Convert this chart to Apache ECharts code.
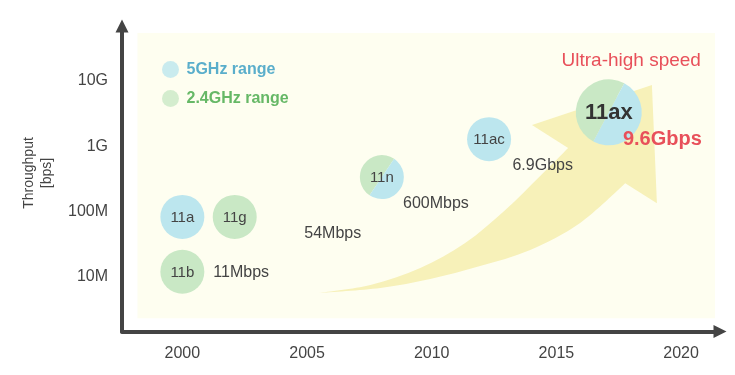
<!DOCTYPE html>
<html>
<head>
<meta charset="utf-8">
<script src="https://cdn.jsdelivr.net/npm/echarts@6/dist/echarts.min.js"></script>
<style>
  html, body { margin: 0; padding: 0; background: #fff; }
  #main { width: 735px; height: 375px; }
</style>
</head>
<body>
<div id="main"></div>
<script>
var FONT = 'Liberation Sans, Arial, sans-serif';

// axis ticks
var yearTicks = [2000, 2005, 2010, 2015, 2020];
var levelTicks = [7, 8, 9, 10];           // log10(bps)
var levelLabels = ['10M', '100M', '1G', '10G'];

// bubbles (year, log10 level)
var bubbleNames = ['11a', '11g', '11b', '11n', '11ac', '11ax'];
var bubbleYears = [2000.0, 2002.1, 2000.0, 2008.0, 2012.3, 2017.1];
var bubbleLevels = [7.92, 7.92, 7.08, 8.53, 9.11, 9.52];
var bubbleBands = ['5GHz', '2.4GHz', '2.4GHz', 'dual', '5GHz', 'dual'];

// speed annotations
var speedTexts = ['11Mbps', '54Mbps', '600Mbps', '6.9Gbps', '9.6Gbps'];
var speedYears = [2002.36, 2006.03, 2010.17, 2014.45, 2019.25];
var speedLevels = [7.06, 7.67, 8.12, 8.70, 9.11];

var headlineText = ['Ultra-high speed'];
var headlineYears = [2018.0];
var headlineLevels = [10.31];

// big trend arrow: upper edge (tail -> notch), head, lower edge (barb -> tail)
var arrowUpperYears = [2005.45, 2007.54, 2009.54, 2011.34, 2012.95, 2014.35, 2015.47];
var arrowUpperLevels = [6.755, 6.878, 7.138, 7.520, 8.026, 8.546, 8.975];
var arrowHeadYears = [2014.02, 2018.83, 2019.03, 2017.76];
var arrowHeadLevels = [9.327, 9.939, 8.128, 8.434];
var arrowLowerYears = [2017.76, 2015.95, 2013.95, 2011.94, 2009.94, 2007.94, 2005.45];
var arrowLowerLevels = [8.434, 7.827, 7.413, 7.168, 6.969, 6.832, 6.755];

// pale panel behind the plot
var panelYears = [1998.2, 2021.36];
var panelLevels = [6.37, 10.735];

var C5 = '#bce6ee', C24 = '#c9e8c5';

function splinePath(pts) {
    // Catmull-Rom through pts, as cubic bezier segments (no leading M)
    var d = '';
    for (var i = 0; i < pts.length - 1; i++) {
        var p0 = pts[Math.max(i - 1, 0)], p1 = pts[i], p2 = pts[i + 1], p3 = pts[Math.min(i + 2, pts.length - 1)];
        var c1 = [p1[0] + (p2[0] - p0[0]) / 6, p1[1] + (p2[1] - p0[1]) / 6];
        var c2 = [p2[0] - (p3[0] - p1[0]) / 6, p2[1] - (p3[1] - p1[1]) / 6];
        d += ' C' + c1[0] + ',' + c1[1] + ' ' + c2[0] + ',' + c2[1] + ' ' + p2[0] + ',' + p2[1];
    }
    return d;
}

var chart = echarts.init(document.getElementById('main'));

var option = {
    animation: false,
    backgroundColor: '#fff',
    textStyle: { fontFamily: FONT },
    grid: { left: 122, right: 15, top: 26, bottom: 43.5 },
    legend: {
        orient: 'vertical',
        left: 157,
        top: 56,
        itemWidth: 22,
        itemHeight: 17,
        itemGap: 12,
        icon: 'circle',
        data: [
            { name: '5GHz range', textStyle: { color: '#5aaecb' } },
            { name: '2.4GHz range', textStyle: { color: '#66b866' } }
        ],
        textStyle: { fontSize: 16, fontWeight: 'bold', fontFamily: FONT }
    },
    graphic: [{
        type: 'text',
        x: 38,
        y: 173,
        rotation: Math.PI / 2,
        style: {
            text: 'Throughput\n[bps]',
            align: 'center',
            verticalAlign: 'middle',
            fill: '#444',
            fontSize: 14,
            lineHeight: 18,
            fontFamily: FONT
        }
    }],
    xAxis: {
        type: 'value',
        min: 1997.58,
        max: 2021.56,
        splitLine: { show: false },
        axisTick: { show: false },
        axisLine: {
            symbol: ['none', 'triangle'],
            symbolSize: [13, 13],
            lineStyle: { color: '#444', width: 4 }
        },
        axisLabel: {
            customValues: yearTicks,
            margin: 14,
            color: '#444',
            fontSize: 16,
            fontFamily: FONT,
            formatter: function (v) { return String(Math.round(v)); }
        }
    },
    yAxis: {
        type: 'value',
        min: 6.166,
        max: 10.842,
        splitLine: { show: false },
        axisTick: { show: false },
        axisLine: {
            symbol: ['none', 'triangle'],
            symbolSize: [13, 13],
            lineStyle: { color: '#444', width: 4 }
        },
        axisLabel: {
            customValues: levelTicks,
            margin: 14,
            color: '#444',
            fontSize: 16,
            fontFamily: FONT,
            formatter: function (v) {
                var i = levelTicks.indexOf(Math.round(v));
                return i >= 0 ? levelLabels[i] : '';
            }
        }
    },
    series: [
        { name: '5GHz range', type: 'scatter', data: [], itemStyle: { color: C5 } },
        { name: '2.4GHz range', type: 'scatter', data: [], itemStyle: { color: C24 } },
        {
            type: 'custom',
            silent: true,
            z: 1,
            data: [[panelYears[0], panelLevels[0]]],
            renderItem: function (params, api) {
                var a = api.coord([panelYears[0], panelLevels[1]]);
                var b = api.coord([panelYears[1], panelLevels[0]]);
                return {
                    type: 'rect',
                    shape: { x: a[0], y: a[1], width: b[0] - a[0], height: b[1] - a[1] },
                    style: { fill: '#fefef0' }
                };
            }
        },
        {
            type: 'custom',
            silent: true,
            z: 2,
            data: [[arrowUpperYears[0], arrowUpperLevels[0]]],
            renderItem: function (params, api) {
                var up = arrowUpperYears.map(function (y, i) { return api.coord([y, arrowUpperLevels[i]]); });
                var head = arrowHeadYears.map(function (y, i) { return api.coord([y, arrowHeadLevels[i]]); });
                var low = arrowLowerYears.map(function (y, i) { return api.coord([y, arrowLowerLevels[i]]); });
                var d = 'M' + up[0][0] + ',' + up[0][1] + splinePath(up);
                head.forEach(function (p) { d += ' L' + p[0] + ',' + p[1]; });
                d += splinePath(low) + ' Z';
                return {
                    type: 'path',
                    shape: { pathData: d },
                    style: { fill: '#f7f1b9' }
                };
            }
        },
        {
            type: 'custom',
            z: 3,
            data: bubbleYears.map(function (y, i) { return [y, bubbleLevels[i]]; }),
            renderItem: function (params, api) {
                var i = params.dataIndex;
                var p = api.coord([api.value(0), api.value(1)]);
                var big = bubbleNames[i] === '11ax';
                var r = big ? 33 : 22;
                var kids = [];
                if (bubbleBands[i] === 'dual') {
                    var a0 = (big ? 118 : 124) * Math.PI / 180;
                    kids.push({ type: 'sector', shape: { cx: p[0], cy: p[1], r: r, r0: 0, startAngle: a0, endAngle: a0 + Math.PI, clockwise: true }, style: { fill: C24 } });
                    kids.push({ type: 'sector', shape: { cx: p[0], cy: p[1], r: r, r0: 0, startAngle: a0 + Math.PI, endAngle: a0 + 2 * Math.PI, clockwise: true }, style: { fill: C5 } });
                } else {
                    kids.push({ type: 'circle', shape: { cx: p[0], cy: p[1], r: r }, style: { fill: bubbleBands[i] === '5GHz' ? C5 : C24 } });
                }
                kids.push({
                    type: 'text',
                    style: {
                        text: bubbleNames[i], x: p[0], y: p[1] + 1,
                        align: 'center', verticalAlign: 'middle',
                        fill: big ? '#333' : '#444',
                        fontSize: big ? 22 : 15,
                        fontWeight: big ? 'bold' : 'normal',
                        fontFamily: FONT
                    }
                });
                return { type: 'group', children: kids };
            }
        },
        {
            type: 'custom',
            z: 4,
            data: speedYears.map(function (y, i) { return [y, speedLevels[i]]; }),
            renderItem: function (params, api) {
                var i = params.dataIndex;
                var p = api.coord([api.value(0), api.value(1)]);
                var hi = speedTexts[i] === '9.6Gbps';
                return {
                    type: 'text',
                    style: {
                        text: speedTexts[i], x: p[0], y: p[1],
                        align: 'center', verticalAlign: 'middle',
                        fill: hi ? '#e8505a' : '#444',
                        fontSize: hi ? 20 : 16,
                        fontWeight: hi ? 'bold' : 'normal',
                        fontFamily: FONT
                    }
                };
            }
        },
        {
            type: 'custom',
            z: 4,
            data: headlineYears.map(function (y, i) { return [y, headlineLevels[i]]; }),
            renderItem: function (params, api) {
                var p = api.coord([api.value(0), api.value(1)]);
                return {
                    type: 'text',
                    style: {
                        text: headlineText[params.dataIndex], x: p[0], y: p[1],
                        align: 'center', verticalAlign: 'middle',
                        fill: '#e8505a', fontSize: 19, fontFamily: FONT
                    }
                };
            }
        }
    ]
};

chart.setOption(option);
</script>
</body>
</html>
